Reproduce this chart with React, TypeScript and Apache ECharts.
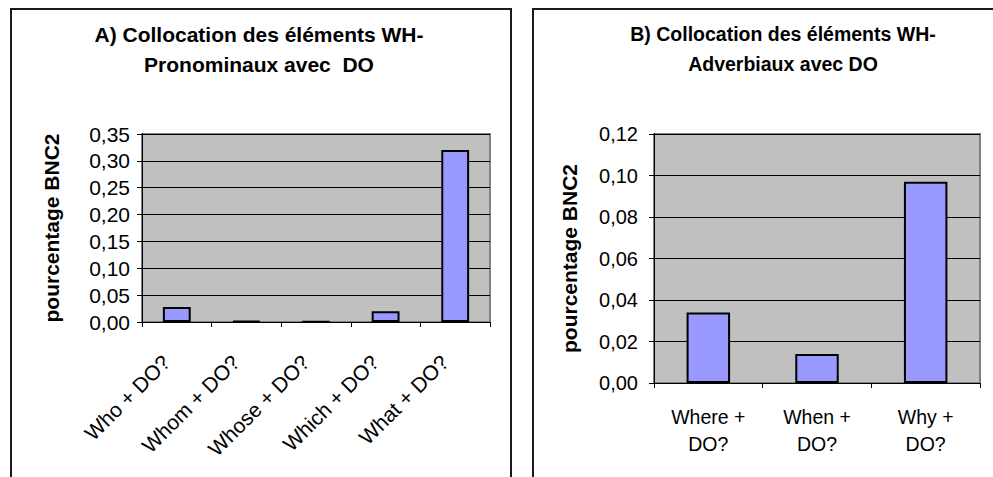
import React, { useEffect, useRef } from "react";
import * as echarts from "echarts";

const titleA = "A) Collocation des éléments WH-\nPronominaux avec  DO";
const titleB = "B) Collocation des éléments WH-\nAdverbiaux avec DO";
const yAxisName = "pourcentage BNC2";

const categoriesA = ["Who + DO?", "Whom + DO?", "Whose + DO?", "Which + DO?", "What + DO?"];
const valuesA = [0.028, 0.002, 0.001, 0.02, 0.32];
const yMaxA = 0.35;
const yStepA = 0.05;

const categoriesB = ["Where +\nDO?", "When +\nDO?", "Why +\nDO?"];
const valuesB = [0.034, 0.014, 0.097];
const yMaxB = 0.12;
const yStepB = 0.02;

const FONT = "'Liberation Sans', Arial, Helvetica, sans-serif";
const BAR = "#9999FF";
const PLOT_BG = "#C0C0C0";

const fmt = (v: number) => v.toFixed(2).replace(".", ",");

export default function App() {
  const ref = useRef<HTMLDivElement>(null);
  useEffect(() => {
    if (!ref.current) return;
    const chart = echarts.init(ref.current, null, { renderer: "svg" });
    const yAxisCommon = (idx: number, max: number, step: number, fs: number, gap: number, margin: number) => ({
      type: "value",
      gridIndex: idx,
      min: 0,
      max,
      interval: step,
      name: yAxisName,
      nameLocation: "middle",
      nameRotate: 90,
      nameGap: gap,
      nameTextStyle: { fontFamily: FONT, fontWeight: "bold", fontSize: 21, color: "#000" },
      axisLine: { show: true, lineStyle: { color: "#000", width: 1 } },
      axisTick: { show: true, length: 5, lineStyle: { color: "#000" } },
      axisLabel: { formatter: fmt, fontFamily: FONT, fontSize: fs, color: "#000", margin },
      splitLine: { show: true, lineStyle: { color: "#000", width: 1 } },
    });
    chart.setOption({
      animation: false,
      backgroundColor: "#fff",
      title: [
        {
          text: titleA,
          left: 259,
          top: 19,
          padding: 0,
          textAlign: "center",
          textStyle: { fontFamily: FONT, fontWeight: "bold", fontSize: 21, lineHeight: 30, color: "#000" },
        },
        {
          text: titleB,
          left: 783,
          top: 19,
          padding: 0,
          textAlign: "center",
          textStyle: { fontFamily: FONT, fontWeight: "bold", fontSize: 19.5, lineHeight: 30, color: "#000" },
        },
      ],
      graphic: [
        {
          type: "rect",
          shape: { x: 11, y: 9, width: 500, height: 520 },
          style: { fill: "none", stroke: "#1a1a1a", lineWidth: 2 },
          silent: true,
        },
        {
          type: "rect",
          shape: { x: 533, y: 9, width: 520, height: 520 },
          style: { fill: "none", stroke: "#1a1a1a", lineWidth: 2 },
          silent: true,
        },
      ],
      grid: [
        { left: 142, top: 134, width: 348, height: 188, show: true, backgroundColor: PLOT_BG, borderColor: "#808080", borderWidth: 2 },
        { left: 654, top: 134, width: 326, height: 249, show: true, backgroundColor: PLOT_BG, borderColor: "#808080", borderWidth: 2 },
      ],
      xAxis: [
        {
          type: "category",
          gridIndex: 0,
          data: categoriesA,
          axisLine: { show: true, lineStyle: { color: "#000", width: 1 } },
          axisTick: { show: true, length: 5, lineStyle: { color: "#000" } },
          axisLabel: {
            rotate: 45,
            interval: 0,
            fontFamily: FONT,
            fontSize: 21,
            color: "#000",
            margin: 26,
            padding: [0, 15, 0, 0],
          },
          splitLine: { show: false },
        },
        {
          type: "category",
          gridIndex: 1,
          data: categoriesB,
          axisLine: { show: true, lineStyle: { color: "#000", width: 1 } },
          axisTick: { show: true, length: 5, lineStyle: { color: "#000" } },
          axisLabel: { interval: 0, fontFamily: FONT, fontSize: 19.5, lineHeight: 27, color: "#000", margin: 20 },
          splitLine: { show: false },
        },
      ],
      yAxis: [yAxisCommon(0, yMaxA, yStepA, 21, 80, 12), yAxisCommon(1, yMaxB, yStepB, 20, 74, 16)],
      series: [
        {
          type: "bar",
          xAxisIndex: 0,
          yAxisIndex: 0,
          data: valuesA,
          barWidth: "40%",
          itemStyle: { color: BAR, borderColor: "#000", borderWidth: 2 },
        },
        {
          type: "bar",
          xAxisIndex: 1,
          yAxisIndex: 1,
          data: valuesB,
          barWidth: "40%",
          itemStyle: { color: BAR, borderColor: "#000", borderWidth: 2 },
        },
      ],
    });
    return () => chart.dispose();
  }, []);
  return (
    <div
      ref={ref}
      style={{ position: "fixed", left: 0, top: 0, width: 993, height: 477, background: "#fff" }}
    />
  );
}
